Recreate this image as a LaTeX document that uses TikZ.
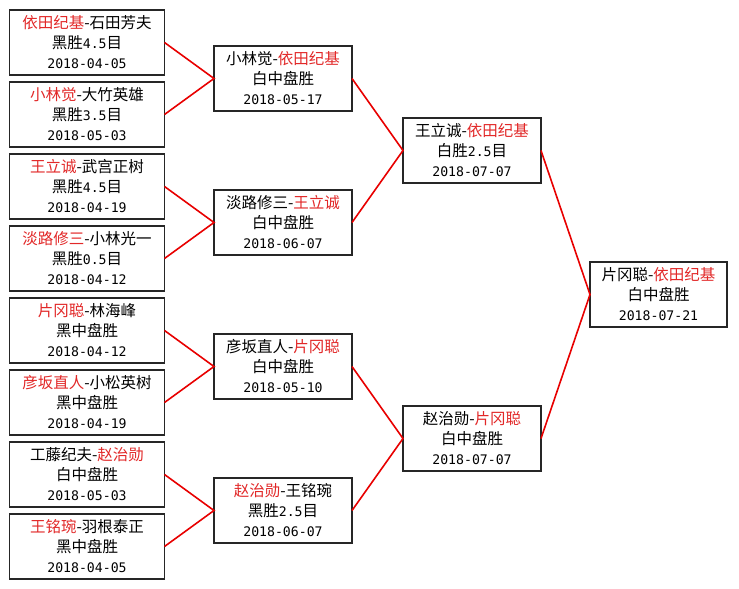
\documentclass[tikz,border=0pt]{standalone}
\usepackage{fontspec}
\setmainfont{Noto Sans CJK SC}
\setmonofont[Scale=0.85]{DejaVu Sans Mono}
\usepackage{tikz}

\definecolor{winred}{RGB}{226,40,40}
\definecolor{wirered}{RGB}{232,0,0}
\newcommand{\win}[1]{\textcolor{winred}{#1}}

\tikzset{
	game/.style={draw=black!85, line width=1.8pt, fill=white, align=center,
		minimum height=65pt, inner sep=0pt, outer sep=0pt,
		font=\fontsize{15.5pt}{20pt}\selectfont},
	first/.style={game, minimum width=155pt},
	later/.style={game, minimum width=138pt},
	wire/.style={wirered, line width=1.6pt}
}

\begin{document}
\begin{tikzpicture}[x=1pt, y=-1pt]
	\useasboundingbox[fill=white] (0,0) rectangle (739,589);
	% first round
	\node[first] (a1) at (87,42.5) {\win{依田纪基}-石田芳夫\\黑胜\texttt{4.5}目\\\texttt{2018-04-05}};
	\node[first] (a2) at (87,114.5) {\win{小林觉}-大竹英雄\\黑胜\texttt{3.5}目\\\texttt{2018-05-03}};
	\node[first] (a3) at (87,186.5) {\win{王立诚}-武宫正树\\黑胜\texttt{4.5}目\\\texttt{2018-04-19}};
	\node[first] (a4) at (87,258.5) {\win{淡路修三}-小林光一\\黑胜\texttt{0.5}目\\\texttt{2018-04-12}};
	\node[first] (a5) at (87,330.5) {\win{片冈聪}-林海峰\\黑中盘胜\\\texttt{2018-04-12}};
	\node[first] (a6) at (87,402.5) {\win{彦坂直人}-小松英树\\黑中盘胜\\\texttt{2018-04-19}};
	\node[first] (a7) at (87,474.5) {工藤纪夫-\win{赵治勋}\\白中盘胜\\\texttt{2018-05-03}};
	\node[first] (a8) at (87,546.5) {\win{王铭琬}-羽根泰正\\黑中盘胜\\\texttt{2018-04-05}};
	% second round
	\node[later] (b1) at (283,78.5) {小林觉-\win{依田纪基}\\白中盘胜\\\texttt{2018-05-17}};
	\node[later] (b2) at (283,222.5) {淡路修三-\win{王立诚}\\白中盘胜\\\texttt{2018-06-07}};
	\node[later] (b3) at (283,366.5) {彦坂直人-\win{片冈聪}\\白中盘胜\\\texttt{2018-05-10}};
	\node[later] (b4) at (283,510.5) {\win{赵治勋}-王铭琬\\黑胜\texttt{2.5}目\\\texttt{2018-06-07}};
	% semi finals
	\node[later] (c1) at (472,150.5) {王立诚-\win{依田纪基}\\白胜\texttt{2.5}目\\\texttt{2018-07-07}};
	\node[later] (c2) at (472,438.5) {赵治勋-\win{片冈聪}\\白中盘胜\\\texttt{2018-07-07}};
	% final
	\node[later, minimum width=137pt] (d1) at (658.5,294.5) {片冈聪-\win{依田纪基}\\白中盘胜\\\texttt{2018-07-21}};

	\draw[wire] (a1.east) -- (b1.west) -- (a2.east);
	\draw[wire] (a3.east) -- (b2.west) -- (a4.east);
	\draw[wire] (a5.east) -- (b3.west) -- (a6.east);
	\draw[wire] (a7.east) -- (b4.west) -- (a8.east);
	\draw[wire] (b1.east) -- (c1.west) -- (b2.east);
	\draw[wire] (b3.east) -- (c2.west) -- (b4.east);
	\draw[wire] (c1.east) -- (d1.west) -- (c2.east);
\end{tikzpicture}
\end{document}
